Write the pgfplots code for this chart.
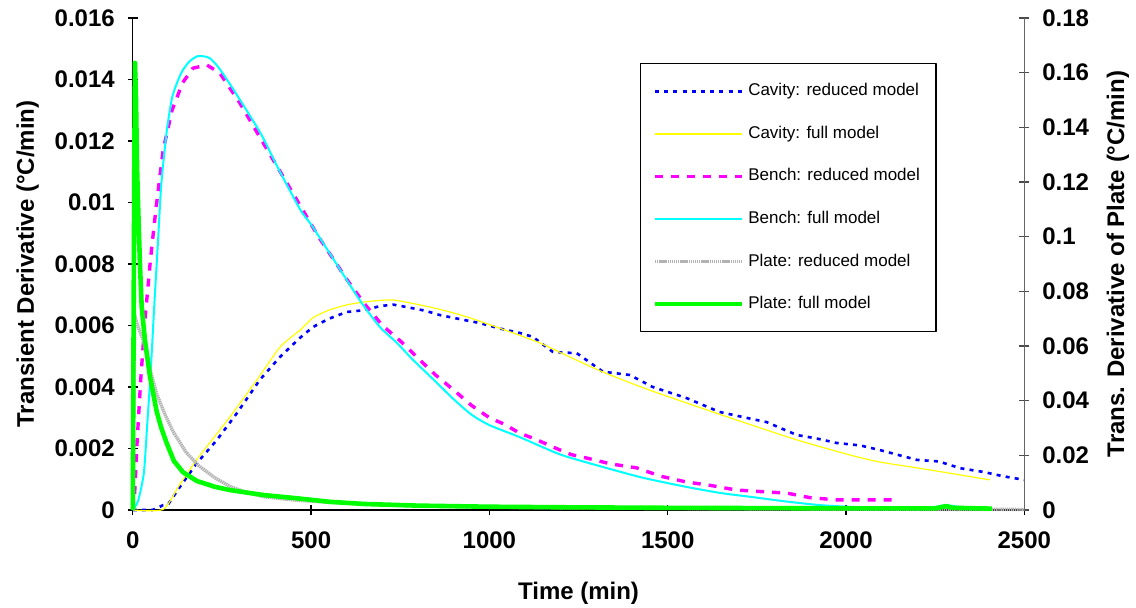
\documentclass[border=0pt]{standalone}
\usepackage{fontspec}
\setmainfont{Liberation Sans}
\usepackage{pgfplots}
\pgfplotsset{compat=1.18}

\definecolor{xlblue}{RGB}{0,0,255}
\definecolor{xlyellow}{RGB}{255,255,0}
\definecolor{xlmagenta}{RGB}{255,0,255}
\definecolor{xlcyan}{RGB}{0,255,255}
\definecolor{xlgreen}{RGB}{0,255,0}

\pgfplotsset{
  cavred/.style={color=xlblue, line width=1.3pt, dash pattern=on 2pt off 2.6pt},
  cavfull/.style={color=xlyellow, line width=0.6pt},
  benred/.style={color=xlmagenta, line width=1.7pt, dash pattern=on 4pt off 4pt},
  benfull/.style={color=xlcyan, line width=1pt},
  platered/.style={color=gray!60, line width=1.7pt, dash pattern=on 0.7pt off 0.35pt},
  platefull/.style={color=xlgreen, line width=2.3pt},
  common/.style={
    width=445.75pt, height=246pt, scale only axis,
    xmin=0, xmax=2500, clip=false,
    ticklabel style={font=\bfseries\fontsize{12}{14}\selectfont},
    label style={font=\bfseries\fontsize{12}{14}\selectfont},
    /pgf/number format/assume math mode=true,
    /pgf/number format/1000 sep={},
    scaled y ticks=false,
    no markers, line join=round,
  },
}

\begin{document}
\begin{tikzpicture}
\begin{axis}[common,
  axis x line*=bottom, axis y line*=left,
  tick align=center, major tick length=5pt,
  every tick/.style={black, line width=0.6pt},
  axis line style={black, line width=0.6pt},
  ymin=0, ymax=0.016,
  xtick={0,500,1000,1500,2000,2500},
  ytick={0,0.002,0.004,0.006,0.008,0.01,0.012,0.014,0.016},
  yticklabel style={/pgf/number format/fixed, /pgf/number format/precision=3, xshift=-3pt},
  xticklabel style={yshift=-5pt},
  xlabel={Time (min)},
  ylabel={Transient Derivative (°C/min)},
  xlabel style={at={(axis description cs:0.5,-0.169)}, anchor=center},
  ylabel style={at={(axis description cs:-0.118,0.5)}, anchor=center, rotate=0},
]
% Cavity: reduced model
\addplot[cavred] coordinates {
(0,0) (55,0) (70,0.00007) (85,0.00016) (100,0.0002) (132,0.00075) (180,0.00153)
(236,0.00228) (292,0.00315) (356,0.00423) (413,0.00498) (469,0.0056) (505,0.00595)
(550,0.00622) (600,0.00644) (650,0.0065) (693,0.00663) (730,0.00668) (768,0.0066)
(820,0.00648) (861,0.00634) (920,0.0062) (973,0.00608) (1030,0.0059) (1085,0.00576)
(1122,0.00563) (1178,0.00514) (1245,0.0051) (1318,0.00450) (1394,0.00439)
(1458,0.0040) (1553,0.00364) (1645,0.00319) (1720,0.0030) (1777,0.00286)
(1862,0.00244) (1920,0.00232) (1974,0.00218) (2040,0.0021) (2095,0.00195)
(2150,0.00178) (2199,0.00163) (2260,0.00158) (2320,0.00136) (2384,0.00124)
(2440,0.0011) (2500,0.00098)
};
% Cavity: full model
\addplot[cavfull, smooth, tension=0.4] coordinates {
(0,0) (85,0.00002) (130,0.0008) (179,0.00163) (225,0.00232) (272,0.00302)
(348,0.00423) (413,0.0053) (469,0.00585) (505,0.00625) (550,0.00650) (600,0.00667)
(660,0.00678) (729,0.00683) (805,0.00667) (870,0.00650) (937,0.00628) (1000,0.00603)
(1066,0.00576) (1142,0.00543) (1230,0.00495) (1318,0.00449) (1430,0.00398)
(1553,0.00348) (1700,0.00290) (1862,0.00228) (2011,0.00179) (2095,0.00156)
(2199,0.00137) (2300,0.00118) (2403,0.00098)
};
% Bench: reduced model
\addplot[benred] coordinates {
(0,0) (5,0.0005) (12,0.0022) (22,0.0042) (35,0.0063) (50,0.0082) (65,0.0098)
(85,0.0117) (110,0.0130) (140,0.0139) (169,0.01437) (208,0.01447) (244,0.01421)
(300,0.01324) (356,0.01213) (449,0.0103) (520,0.0089) (600,0.0075) (650,0.0067)
(700,0.0060) (750,0.0055) (805,0.00488) (848,0.0044) (900,0.0039) (950,0.0034)
(1000,0.0030) (1040,0.0028) (1085,0.0025) (1130,0.0023) (1178,0.00205)
(1230,0.0018) (1273,0.00169) (1340,0.0015) (1413,0.00137) (1480,0.0011)
(1553,0.00091) (1620,0.0008) (1693,0.00065) (1760,0.0006) (1834,0.00055)
(1900,0.0004) (1974,0.00033) (2060,0.00033) (2150,0.00033)
};
% Bench: full model
\addplot[benfull, smooth, tension=0.4] coordinates {
(0,0) (15,0.0003) (31,0.0012) (40,0.0027) (50,0.00446) (60,0.0066) (70,0.0086)
(80,0.0106) (95,0.0123) (110,0.0134) (126,0.01395) (140,0.0143) (160,0.0146)
(182,0.01476) (200,0.01475) (215,0.0147) (240,0.0144) (283,0.01366)
(358,0.01226) (406,0.01115) (470,0.00976) (505,0.0092) (600,0.00748) (642,0.00673)
(693,0.00595) (741,0.00543) (786,0.00488) (839,0.00429) (900,0.0036) (950,0.0031)
(1000,0.00276) (1085,0.00237) (1200,0.0018) (1318,0.0014) (1430,0.00105)
(1553,0.00075) (1650,0.00055) (1738,0.00042) (1830,0.00028) (1926,0.00016)
(2018,0.0001) (2100,0.00008) (2200,0.00008) (2250,0.0001) (2280,0.00016)
(2320,0.0001) (2400,0.00005)
};
\end{axis}

\begin{axis}[common,
  axis x line=none, axis y line*=right,
  tick align=center, major tick length=5pt,
  every tick/.style={black!70, line width=0.6pt},
  axis line style={black!60, line width=0.8pt},
  ymin=0, ymax=0.18,
  ytick={0,0.02,0.04,0.06,0.08,0.1,0.12,0.14,0.16,0.18},
  yticklabel style={/pgf/number format/fixed, /pgf/number format/precision=2, xshift=3pt},
  ylabel={Trans. Derivative of Plate (°C/min)},
  ylabel style={at={(axis description cs:1.105,0.5)}, anchor=center, rotate=0},
  legend style={at={(0.569,0.9085)}, anchor=north west, draw=black,
    line width=0.6pt, fill=white, inner xsep=6pt, inner ysep=8pt,
    row sep=9.6pt, font=\fontsize{8.5}{10}\selectfont},
  legend cell align=left,
  legend image code/.code={\draw[#1] (0pt,0pt) -- (43.5pt,0pt);},
]
\addlegendimage{cavred}
\addlegendimage{color=xlyellow, line width=0.9pt}
\addlegendimage{benred}
\addlegendimage{benfull}
% Plate: reduced model
\addplot[platered] coordinates {
(0,0) (5,0.0715) (12,0.068) (29,0.0622) (45,0.053) (67,0.0425) (90,0.035)
(113,0.0287) (150,0.021) (185,0.0162) (230,0.0118) (276,0.0084) (320,0.0064)
(370,0.0048) (450,0.0037) (550,0.0028) (700,0.0019) (900,0.0012) (1200,0.0008)
(1600,0.0005) (2000,0.0003) (2500,0.0002)
};
% Plate: full model
\addplot[platefull] coordinates {
(0,0) (4,0.12) (6,0.1636) (9,0.15) (12,0.125) (15,0.111) (20,0.09) (25,0.0743)
(34,0.0622) (48,0.049) (67,0.036) (80,0.030) (95,0.0245) (115,0.018) (141,0.0138)
(180,0.0106) (230,0.0085) (272,0.0073) (365,0.0055) (459,0.0043) (552,0.0030)
(650,0.0022) (800,0.0016) (1000,0.0012) (1200,0.0010) (1500,0.0008) (2000,0.0006)
(2250,0.0006) (2280,0.0014) (2300,0.0008) (2409,0.0005)
};
\draw[black!60, line width=0.8pt] (rel axis cs:1,0) -- (rel axis cs:1,1);
\legend{Cavity: reduced model, Cavity: full model, Bench: reduced model,
  Bench: full model, Plate: reduced model, Plate: full model}
\end{axis}
\pgfresetboundingbox
\path[use as bounding box] (-66.4pt,-48.5pt) rectangle (501.6pt,255pt);
\end{tikzpicture}
\end{document}
